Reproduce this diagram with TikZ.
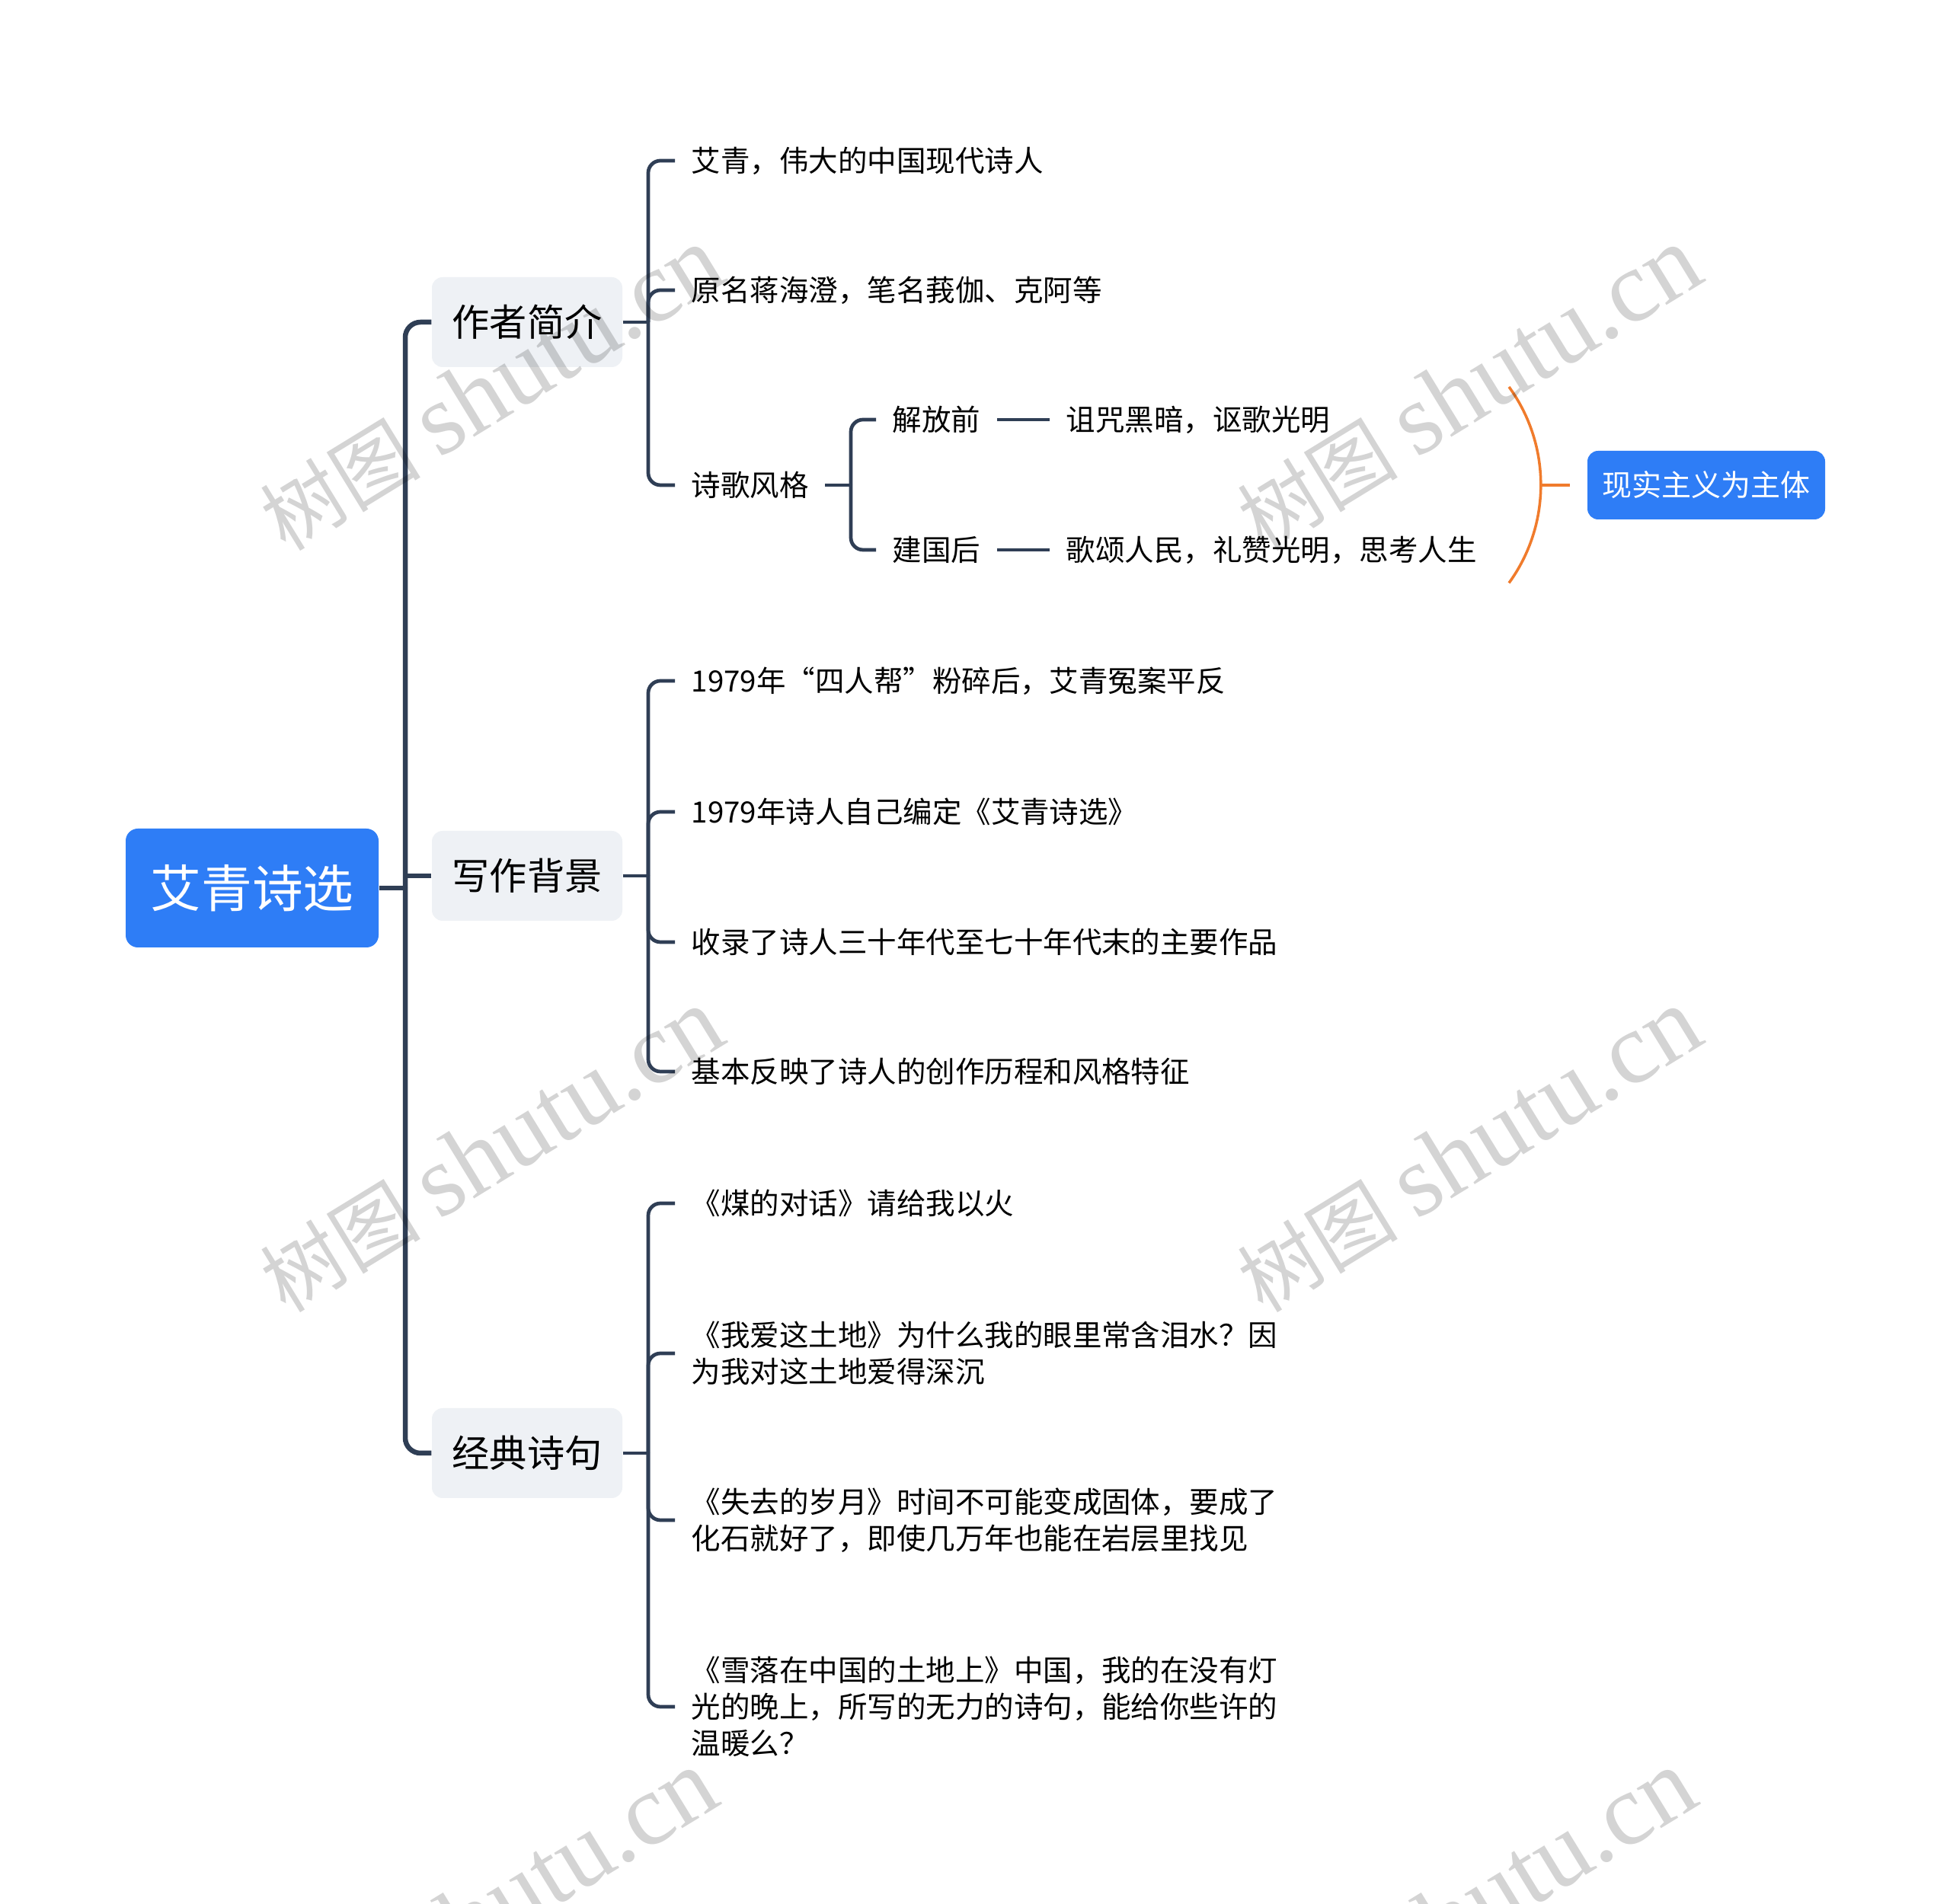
\documentclass[tikz,border=0pt]{standalone}
\usepackage{fontspec}
\setmainfont{Noto Sans CJK SC}
\newfontfamily\wmserif{Liberation Serif}
\usepackage{tikz}
\usetikzlibrary{positioning, calc}
\definecolor{kblue}{HTML}{2E7DF6}
\definecolor{kgrey}{HTML}{EEF1F5}
\definecolor{kline}{HTML}{2F3E55}
\definecolor{korange}{HTML}{F07B2C}

\tikzset{
  rootbox/.style={fill=kblue, rounded corners=0.16cm, minimum width=3.32cm, minimum height=1.56cm,
    text=white, font=\fontsize{19}{23}\selectfont},
  topicbox/.style={fill=kgrey, rounded corners=0.14cm, minimum width=2.50cm, minimum height=1.18cm,
    font=\fontsize{14}{17}\selectfont},
  leaf/.style={anchor=west, inner xsep=0.21cm, inner ysep=0pt, align=left,
    font=\fontsize{10.95}{13.7}\selectfont},
  sumbox/.style={fill=kblue, rounded corners=0.14cm, minimum width=3.12cm, minimum height=0.90cm,
    text=white, font=\fontsize{11.1}{13}\selectfont},
  trunk/.style={draw=kline, line width=1.85pt, rounded corners=0.2cm},
  twig/.style={draw=kline, line width=1.35pt, rounded corners=0.16cm},
  sumline/.style={draw=korange, line width=1.0pt},
  wmark/.style={text=black, text opacity=0.17, rotate=31.5, inner sep=0pt}
}

\begin{document}
\begin{tikzpicture}[x=1cm, y=1cm]
\useasboundingbox (0,0) rectangle (25.60,24.99);
\fill[white] (0,0) rectangle (25.60,24.99);

\node[rootbox] (root) at (3.31,13.33) {艾青诗选};
\coordinate (rootj) at (5.32,13.33);

\node[topicbox] (zzjj) at (6.92,20.76) {作者简介};
\node[topicbox] (xzbj) at (6.92,13.49) {写作背景};
\node[topicbox] (jdsj) at (6.92,5.91) {经典诗句};

\coordinate (zzj) at (8.51,20.76);
\coordinate (xzj) at (8.51,13.49);
\coordinate (jdj) at (8.51,5.91);

\node[leaf] (a1) at (8.86,22.88) {艾青，伟大的中国现代诗人};
\node[leaf] (a2) at (8.86,21.18) {原名蒋海澄，笔名莪伽、克阿等};
\node[leaf] (a3) at (8.86,18.62) {诗歌风格};
\coordinate (fgj) at (11.17,18.62);
\node[leaf] (b1) at (11.50,19.48) {解放前};
\node[leaf] (b2) at (11.50,17.77) {建国后};
\node[leaf] (c1) at (13.78,19.48) {诅咒黑暗，讴歌光明};
\node[leaf] (c2) at (13.78,17.77) {歌颂人民，礼赞光明，思考人生};

\node[leaf] (d1) at (8.86,16.05) {1979年“四人帮”粉碎后，艾青冤案平反};
\node[leaf] (d2) at (8.86,14.33) {1979年诗人自己编定《艾青诗选》};
\node[leaf] (d3) at (8.86,12.62) {收录了诗人三十年代至七十年代末的主要作品};
\node[leaf] (d4) at (8.86,10.92) {基本反映了诗人的创作历程和风格特征};

\node[leaf] (e1) at (8.86,9.19) {《煤的对话》请给我以火};
\node[leaf] (e2) at (8.86,7.22) {《我爱这土地》为什么我的眼里常含泪水？因\\为我对这土地爱得深沉};
\node[leaf] (e3) at (8.86,5.03) {《失去的岁月》时间不可能变成固体，要成了\\化石就好了，即使几万年也能在岩层里找见};
\node[leaf] (e4) at (8.86,2.58) {《雪落在中国的土地上》中国，我的在没有灯\\光的晚上，所写的无力的诗句，能给你些许的\\温暖么？};

\coordinate (sumj) at (20.23,18.62);
\node[sumbox] (sum) at (22.40,18.62) {现实主义为主体};

\draw[trunk] (root.east) -- (rootj);
\draw[trunk] (rootj) |- (zzjj.west);
\draw[trunk] (xzbj.west) -- (xzbj.west -| rootj);
\draw[trunk] (rootj) |- (jdsj.west);

\draw[twig] (zzjj.east) -- (zzj);
\foreach \n in {a1,a2,a3} \draw[twig] (zzj) |- (\n.west);
\draw[twig] (a3.east) -- (fgj);
\foreach \n in {b1,b2} \draw[twig] (fgj) |- (\n.west);
\draw[twig] (b1.east) -- (c1.west);
\draw[twig] (b2.east) -- (c2.west);

\draw[twig] (xzbj.east) -- (xzj);
\foreach \n in {d1,d2,d3,d4} \draw[twig] (xzj) |- (\n.west);

\draw[twig] (jdsj.east) -- (jdj);
\foreach \n in {e1,e2,e3,e4} \draw[twig] (jdj) |- (\n.west);

\draw[sumline] (19.81,19.91) arc[start angle=36, end angle=-36, radius=2.19];
\draw[sumline, shorten >=0.22cm] (sumj) -- (sum.west);

\foreach \wx/\wy [count=\i] in {6.45/19.88, 19.28/19.88, 6.45/9.88, 19.28/9.88, 6.37/-0.12, 19.21/-0.12}
  \node[wmark] (wm\i) at (\wx,\wy) {{\fontsize{30}{30}\selectfont 树图}\hspace{0.25cm}{\wmserif\fontsize{38}{38}\selectfont shutu.cn}};
\end{tikzpicture}
\end{document}
